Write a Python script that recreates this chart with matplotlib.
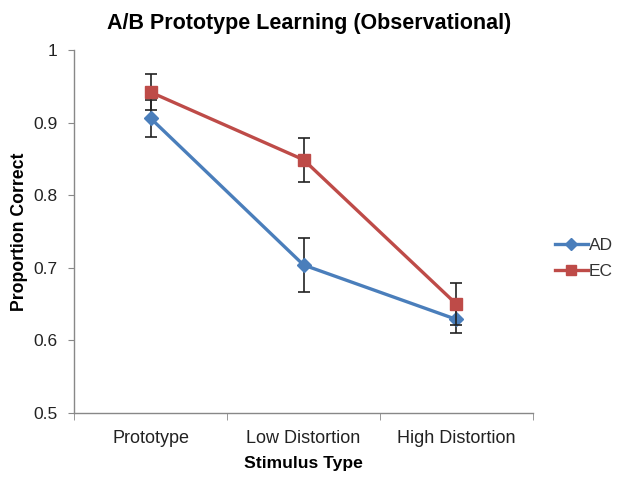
import matplotlib
matplotlib.use("Agg")
import matplotlib.pyplot as plt

plt.rcParams["font.family"] = ["Liberation Sans", "DejaVu Sans"]

categories = ["Prototype", "Low Distortion", "High Distortion"]
ad_mean = [0.906, 0.704, 0.629]
ad_err = [0.025, 0.037, 0.019]
ec_mean = [0.942, 0.849, 0.650]
ec_err = [0.025, 0.030, 0.029]

blue = "#4a7ebb"
red = "#be4b48"

fig = plt.figure(figsize=(6.24, 4.82), dpi=100)
ax = fig.add_axes([0.119, 0.143, 0.735, 0.753])

x = list(range(len(categories)))
ax.errorbar(x, ad_mean, yerr=ad_err, color=blue, lw=2.4, marker="D", ms=7,
            ecolor="#222222", elinewidth=1.2, capsize=4, capthick=1.2, label="AD", zorder=3)
ax.errorbar(x, ec_mean, yerr=ec_err, color=red, lw=2.4, marker="s", ms=8,
            ecolor="#222222", elinewidth=1.2, capsize=4, capthick=1.2, label="EC", zorder=4)

ax.set_xlim(-0.5, 2.5)
ax.set_ylim(0.5, 1.0)
ax.set_yticks([0.5, 0.6, 0.7, 0.8, 0.9, 1.0])
ax.set_yticklabels(["0.5", "0.6", "0.7", "0.8", "0.9", "1"])
ax.set_xticks(x)
ax.set_xticklabels(categories)
ax.set_xticks([-0.5, 0.5, 1.5, 2.5], minor=True)
ax.tick_params(axis="x", which="major", length=0, labelsize=13, colors="#222222", pad=12)
ax.tick_params(axis="x", which="minor", length=5, color="#888888", direction="out")
ax.tick_params(axis="y", length=4, color="#888888", labelsize=12.5, labelcolor="#222222", pad=8)

for s in ["top", "right"]:
    ax.spines[s].set_visible(False)
for s in ["left", "bottom"]:
    ax.spines[s].set_color("#888888")
    ax.spines[s].set_linewidth(1.0)

title = ax.set_title("A/B Prototype Learning (Observational)", fontsize=15.5, fontweight="bold", pad=15)
title.set_x(0.512)
ax.set_xlabel("Stimulus Type", fontsize=12.6, fontweight="bold", labelpad=7)
ax.set_ylabel("Proportion Correct", fontsize=12.7, fontweight="bold", labelpad=4)

handles, labels = ax.get_legend_handles_labels()
handles = [h[0] for h in handles]
fig.legend(handles, labels, loc="center left", bbox_to_anchor=(0.865, 0.464), frameon=False,
           fontsize=12.5, handlelength=1.85, handletextpad=0.06, labelspacing=0.6,
           labelcolor="#333333", markerscale=0.85)

fig.savefig("out.png", dpi=100)
